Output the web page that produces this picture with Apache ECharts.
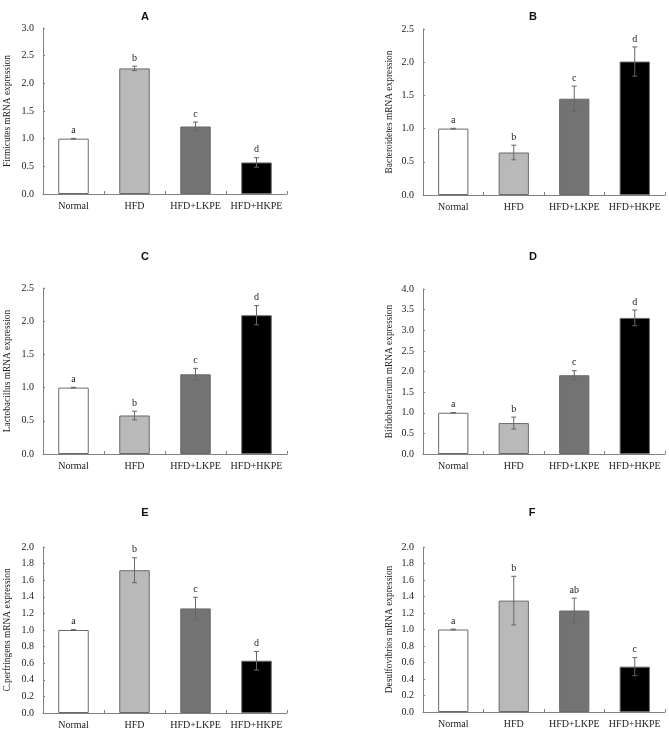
<!DOCTYPE html>
<html>
<head>
<meta charset="utf-8">
<script src="https://cdn.jsdelivr.net/npm/echarts@6/dist/echarts.min.js"></script>
<style>html,body{margin:0;padding:0;background:#fff}#c{width:669px;height:730px}</style>
</head>
<body>
<div id="c"></div>
<script>
var categories = ['Normal', 'HFD', 'HFD+LKPE', 'HFD+HKPE'];
var panelTitles = ['A', 'B', 'C', 'D', 'E', 'F'];
var axisNames = ['Firmicutes mRNA expression', 'Bacteroidetes mRNA expression', 'Lactobacillus mRNA expression',
  'Bifidobacterium mRNA expression', 'C.perfringens mRNA expression', 'Desulfovibrios mRNA expression'];
var valuesA = [1.0, 2.27, 1.22, 0.57];
var errorsA = [0.005, 0.04, 0.08, 0.085];
var lettersA = ['a', 'b', 'c', 'd'];
var valuesB = [1.0, 0.64, 1.45, 2.01];
var errorsB = [0.005, 0.11, 0.19, 0.22];
var lettersB = ['a', 'b', 'c', 'd'];
var valuesC = [1.0, 0.58, 1.2, 2.09];
var errorsC = [0.005, 0.065, 0.09, 0.145];
var lettersC = ['a', 'b', 'c', 'd'];
var valuesD = [1.0, 0.75, 1.91, 3.3];
var errorsD = [0.005, 0.145, 0.11, 0.19];
var lettersD = ['a', 'b', 'c', 'd'];
var valuesE = [1.0, 1.72, 1.26, 0.63];
var errorsE = [0.005, 0.15, 0.135, 0.112];
var lettersE = ['a', 'b', 'c', 'd'];
var valuesF = [1.0, 1.35, 1.23, 0.55];
var errorsF = [0.005, 0.295, 0.15, 0.11];
var lettersF = ['a', 'b', 'ab', 'c'];
var yMax = [3.0, 2.5, 2.5, 4.0, 2.0, 2.0];
var yStep = [0.5, 0.5, 0.5, 0.5, 0.2, 0.2];

var values = [valuesA, valuesB, valuesC, valuesD, valuesE, valuesF];
var errors = [errorsA, errorsB, errorsC, errorsD, errorsE, errorsF];
var letters = [lettersA, lettersB, lettersC, lettersD, lettersE, lettersF];

var barColors = ['#ffffff', '#b9b9b9', '#737373', '#000000'];
var grids = [
  {left: 43, top: 28, width: 244, height: 166},
  {left: 423, top: 29, width: 242, height: 166},
  {left: 43, top: 288, width: 244, height: 166},
  {left: 423, top: 289, width: 242, height: 165},
  {left: 43, top: 547, width: 244, height: 166},
  {left: 423, top: 547, width: 242, height: 165}
];
var titlePos = [[140, 12], [528, 12], [140, 252], [528, 252], [140, 508], [527, 508]];
var serif = 'Liberation Serif';
var axisCol = '#808080';

var option = {
  animation: false,
  backgroundColor: '#fff',
  title: [], grid: [], xAxis: [], yAxis: [], series: []
};

for (var i = 0; i < 6; i++) {
  option.title.push({
    text: panelTitles[i], left: titlePos[i][0], top: titlePos[i][1],
    textAlign: 'center', textVerticalAlign: 'middle',
    textStyle: {fontFamily: 'Liberation Sans', fontWeight: 'bold', fontSize: 11, color: '#111'}
  });
  option.grid.push(grids[i]);
  option.xAxis.push({
    type: 'category', gridIndex: i, data: categories,
    axisLine: {lineStyle: {color: axisCol, width: 1}},
    axisTick: {show: true, inside: true, length: 3, lineStyle: {color: axisCol}},
    axisLabel: {fontFamily: serif, fontSize: 10, color: '#222', margin: 7, interval: 0}
  });
  option.yAxis.push({
    type: 'value', gridIndex: i, min: 0, max: yMax[i], interval: yStep[i],
    name: axisNames[i], nameLocation: 'middle', nameGap: (i % 2 === 0) ? 31 : 29,
    nameTextStyle: {fontFamily: serif, fontSize: 9.4, color: '#222'},
    axisLine: {show: true, lineStyle: {color: axisCol, width: 1}},
    axisTick: {show: true, inside: true, length: 2, lineStyle: {color: axisCol}},
    splitLine: {show: false},
    axisLabel: {fontFamily: serif, fontSize: 10, color: '#222', margin: 9,
      formatter: function (v) { return v.toFixed(1); }}
  });
  option.series.push({
    type: 'bar', xAxisIndex: i, yAxisIndex: i, barWidth: '50%',
    data: values[i].map(function (v, k) {
      return {value: v, itemStyle: {color: barColors[k], borderColor: '#6a6a6a', borderWidth: 1}};
    })
  });
  option.series.push({
    type: 'custom', xAxisIndex: i, yAxisIndex: i, z: 10,
    data: values[i].map(function (v, k) { return [k, v, errors[i][k], letters[i][k]]; }),
    renderItem: function (params, api) {
      var x = api.value(0), v = api.value(1), e = api.value(2);
      var lbl = option.series[params.seriesIndex].data[params.dataIndex][3];
      var top = api.coord([x, v + e]);
      var bot = api.coord([x, v - e]);
      var cw = 2.5;
      var st = {stroke: '#666', lineWidth: 1};
      return {
        type: 'group', children: [
          {type: 'line', shape: {x1: top[0], y1: top[1], x2: bot[0], y2: bot[1]}, style: st},
          {type: 'line', shape: {x1: top[0] - cw, y1: top[1], x2: top[0] + cw, y2: top[1]}, style: st},
          {type: 'line', shape: {x1: bot[0] - cw, y1: bot[1], x2: bot[0] + cw, y2: bot[1]}, style: st},
          {type: 'text', style: {text: lbl, x: top[0], y: top[1] - 3, align: 'center', verticalAlign: 'bottom',
            font: '10px "Liberation Serif"', fill: '#222'}}
        ]
      };
    }
  });
}

var chart = echarts.init(document.getElementById('c'));
chart.setOption(option);
</script>
</body>
</html>
